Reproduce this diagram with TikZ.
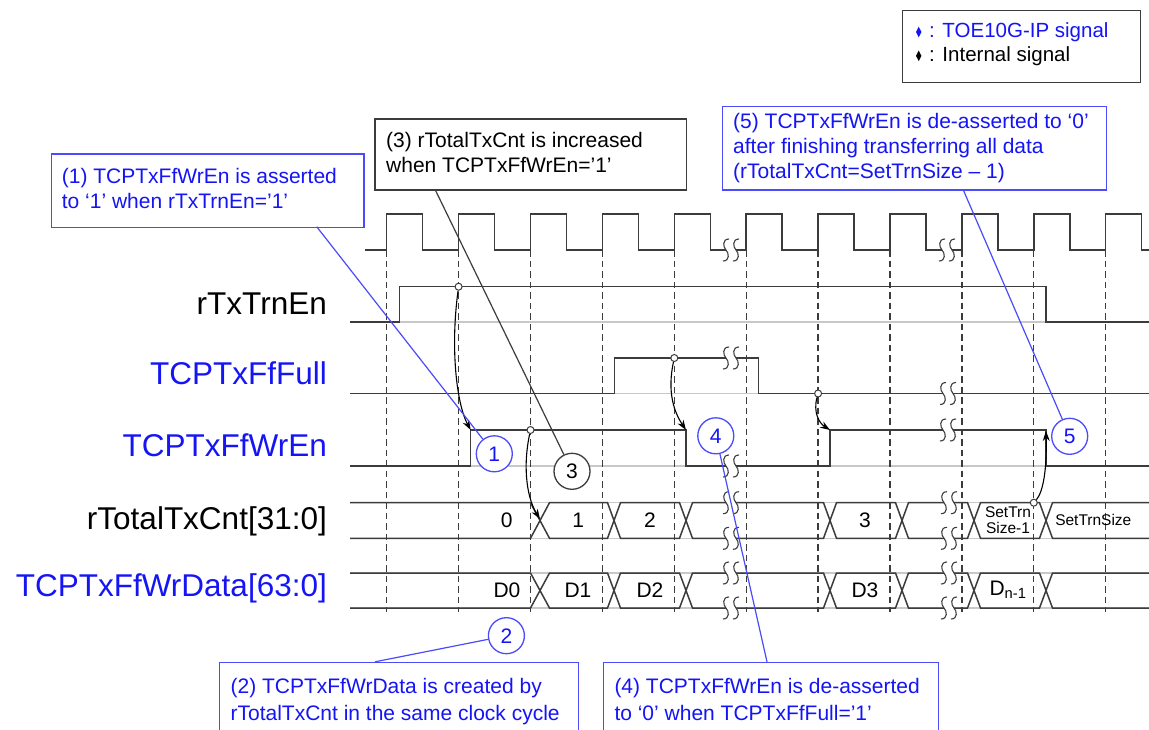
\documentclass[tikz,border=0pt]{standalone}
\usepackage{fontspec}
\setmainfont{Liberation Sans}
\usetikzlibrary{arrows.meta}
\definecolor{sig}{RGB}{60,60,60}
\definecolor{guide}{RGB}{200,200,200}
\definecolor{tblue}{RGB}{20,20,245}
\definecolor{bblue}{RGB}{75,75,250}
\newcommand{\sS}[2]{\draw[sig,line width=1.1pt] ({#1+3},{#2-11}) .. controls ({#1-4},{#2-11}) and ({#1-3},{#2-3}) .. ({#1},{#2}) .. controls ({#1+3},{#2+3}) and ({#1+4},{#2+11}) .. ({#1-3},{#2+11});}
\newcommand{\sigbreak}[2]{\fill[white] ({#1-5},{#2-2.6}) rectangle ({#1+5},{#2+2.6});\sS{#1-5}{#2}\sS{#1+5}{#2}}
\newcommand{\busdraw}[2]{\draw[sigl] (350,#1) -- (530.5,#1) -- (549.5,#2) -- (607.5,#2) -- (620.5,#1) -- (679.5,#1) -- (692.5,#2) -- (823.5,#2) -- (836.5,#1) -- (895.5,#1) -- (908.5,#2) -- (967.5,#2) -- (980.5,#1) -- (1039.5,#1) -- (1052.5,#2) -- (1149,#2);}
\begin{document}
\begin{tikzpicture}[x=1pt,y=-1pt,
  sigl/.style={draw=sig,line width=1.5pt,line join=miter},
  guideline/.style={draw=guide,line width=1.3pt},
  edgeline/.style={draw=sig,line width=1.3pt,dash pattern=on 6.5pt off 4pt},
  lab/.style={anchor=base east,font=\fontsize{31.5}{36}\selectfont,inner sep=0},
  val/.style={font=\fontsize{21}{25}\selectfont,inner sep=0},
  sval/.style={font=\fontsize{15.5}{18}\selectfont,inner sep=0},
  cbox/.style={draw=#1,line width=1.3pt,fill=white,anchor=north west,inner sep=0},
  ctext/.style={anchor=base west,inner sep=0,font=\fontsize{21}{25}\selectfont},
  numc/.style={circle,draw=#1,line width=1.3pt,fill=white,minimum size=36pt,inner sep=0,font=\fontsize{21}{25}\selectfont},
  dotc/.style={circle,draw=sig,line width=1pt,fill=white,minimum size=7pt,inner sep=0},
  causal/.style={draw=black,line width=1.1pt,-{Stealth[length=10pt,width=7pt]}},
  pointer/.style={draw=#1,line width=1.2pt}
]
\useasboundingbox (0,0) rectangle (1149,729);
\fill[white] (0,0) rectangle (1149,729);
\clip (0,0) rectangle (1149,729);

% guide lines
\foreach \yy in {322,393.5,466,502.7,538.3,573,608}{\draw[guideline] (350,\yy) -- (1149,\yy);}

% dashed clock edges
\foreach \xx in {386.7,458.6,530.5,602.4,674.3,746.2,818.1,890.0,961.9,1033.8,1105.7}{\draw[edgeline] (\xx,250) -- (\xx,612);}

% clock
\draw[sigl] (365,250) -- (386.7,250) -- (386.7,214) -- (422.7,214) -- (422.7,250)
 -- (458.6,250) -- (458.6,214) -- (494.6,214) -- (494.6,250)
 -- (530.5,250) -- (530.5,214) -- (566.5,214) -- (566.5,250)
 -- (602.4,250) -- (602.4,214) -- (638.4,214) -- (638.4,250)
 -- (674.3,250) -- (674.3,214) -- (710.3,214) -- (710.3,250)
 -- (746.2,250) -- (746.2,214) -- (782.2,214) -- (782.2,250)
 -- (818.1,250) -- (818.1,214) -- (854.1,214) -- (854.1,250)
 -- (890.0,250) -- (890.0,214) -- (926.0,214) -- (926.0,250)
 -- (961.9,250) -- (961.9,214) -- (997.9,214) -- (997.9,250)
 -- (1033.8,250) -- (1033.8,214) -- (1069.8,214) -- (1069.8,250)
 -- (1105.7,250) -- (1105.7,214) -- (1141.7,214) -- (1141.7,250) -- (1149,250);

% rTxTrnEn
\draw[sigl] (350,322) -- (399.3,322) -- (399.3,286.7) -- (1046,286.7) -- (1046,322) -- (1149,322);
% TCPTxFfFull
\draw[sigl] (350,393.5) -- (614.3,393.5) -- (614.3,358) -- (758.3,358) -- (758.3,393.5) -- (1149,393.5);
% TCPTxFfWrEn
\draw[sigl] (350,466) -- (470.7,466) -- (470.7,430) -- (686,430) -- (686,466) -- (830,466) -- (830,430) -- (1046,430) -- (1046,466) -- (1149,466);
% buses
\busdraw{502.7}{538.3}
\busdraw{538.3}{502.7}
\busdraw{573}{608}
\busdraw{608}{573}

% breaks
\sigbreak{731}{250}
\sigbreak{947}{250}
\sigbreak{731}{358}
\sigbreak{948}{393.5}
\sigbreak{731}{466}
\sigbreak{948}{430}
\foreach \yy in {502.7,538.3,573,608}{\sigbreak{731}{\yy}\sigbreak{949}{\yy}}

% signal names
\node[lab] (nTrn) at (327,314) {rTxTrnEn};
\node[lab,text=tblue] (nFull) at (327,384.3) {TCPTxFfFull};
\node[lab,text=tblue] (nWrEn) at (327,456.7) {TCPTxFfWrEn};
\node[lab] (nCnt) at (327,529.3) {rTotalTxCnt[31:0]};
\node[lab,text=tblue] (nData) at (327,596.7) {TCPTxFfWrData[63:0]};

% bus values
\node[val] (v0) at (506.7,520) {0};
\node[val] (v1) at (578.3,520) {1};
\node[val] (v2) at (650,520) {2};
\node[val] (v3) at (865,520) {3};
\node[sval] (v4a) at (1008,511.7) {SetTrn};
\node[sval] (v4b) at (1008,528.3) {Size-1};
\node[sval] (v5) at (1093.3,519.5) {SetTrnSize};
\node[val] (d0) at (507,590) {D0};
\node[val] (d1) at (578,590) {D1};
\node[val] (d2) at (650,590) {D2};
\node[val] (d3) at (865,590) {D3};
\node[val] (dn) at (1008,590) {D\textsubscript{n-1}};

% causal arrows
\node[dotc] (s1) at (458.6,286.7) {};
\coordinate (t1) at (470.7,430);
\draw[causal] (s1) .. controls (450,350) and (457,405) .. (t1);
\node[dotc] (s2) at (530.5,430) {};
\coordinate (t2) at (540,519);
\draw[causal] (s2) .. controls (522,470) and (528,500) .. (t2);
\node[dotc] (s3) at (674.3,358) {};
\coordinate (t3) at (686,430);
\draw[causal] (s3) .. controls (667,392) and (674,412) .. (t3);
\node[dotc] (s4) at (818.1,393.5) {};
\coordinate (t4) at (830,430);
\draw[causal] (s4) .. controls (813,412) and (819,423) .. (t4);
\node[dotc] (s5) at (1033.8,502.7) {};
\coordinate (t5) at (1046,431);
\draw[causal] (s5) .. controls (1043,492) and (1047,470) .. (t5);

% callout boxes
\node[cbox=bblue,minimum width=312.6pt,minimum height=73.4pt] (box1) at (50.7,153.3) {};
\node[ctext,text=tblue] (t1a) at (61.7,183.3) {(1) TCPTxFfWrEn is asserted};
\node[ctext,text=tblue] (t1b) at (61.7,208.3) {to ‘1’ when rTxTrnEn=’1’};

\node[cbox=sig,minimum width=311.7pt,minimum height=71pt] (box3) at (374.3,118.3) {};
\node[ctext] (t3a) at (386,147.7) {(3) rTotalTxCnt is increased};
\node[ctext] (t3b) at (386,172.7) {when TCPTxFfWrEn=’1’};

\node[cbox=bblue,minimum width=384pt,minimum height=83.6pt] (box5) at (722,105.7) {};
\node[ctext,text=tblue] (t5a) at (733,128.3) {(5) TCPTxFfWrEn is de-asserted to ‘0’};
\node[ctext,text=tblue] (t5b) at (733,153.3) {after finishing transferring all data};
\node[ctext,text=tblue] (t5c) at (733,178.3) {(rTotalTxCnt=SetTrnSize – 1)};

\node[cbox=bblue,minimum width=359.3pt,minimum height=90pt] (box2) at (218.6,661.8) {};
\node[ctext,text=tblue] (t2a) at (230.4,693.9) {(2) TCPTxFfWrData is created by};
\node[ctext,text=tblue] (t2b) at (230.4,720.7) {rTotalTxCnt in the same clock cycle};

\node[cbox=bblue,minimum width=335pt,minimum height=90pt] (box4) at (603,661.8) {};
\node[ctext,text=tblue] (t4a) at (614.3,693.9) {(4) TCPTxFfWrEn is de-asserted};
\node[ctext,text=tblue] (t4b) at (614.3,720.7) {to ‘0’ when TCPTxFfFull=’1’};

% numbered circles and pointers
\node[numc=bblue,text=tblue] (c1) at (494.3,453.8) {1};
\node[numc=bblue,text=tblue] (c2) at (506.4,635.7) {2};
\node[numc=sig] (c3) at (572,471.3) {3};
\node[numc=bblue,text=tblue] (c4) at (715.8,435.8) {4};
\node[numc=bblue,text=tblue] (c5) at (1069.7,436.3) {5};
\coordinate (p1) at (316.7,226.7);
\coordinate (p2) at (375,661.8);
\coordinate (p3) at (435,189.3);
\coordinate (p4) at (767,661.8);
\coordinate (p5) at (963,189.3);
\draw[pointer=bblue] (p1) -- (c1);
\draw[pointer=bblue] (c2) -- (p2);
\draw[pointer=sig] (p3) -- (c3);
\draw[pointer=bblue] (c4) -- (p4);
\draw[pointer=bblue] (p5) -- (c5);

% legend
\node[cbox=sig,line width=1.2pt,minimum width=238.3pt,minimum height=71.7pt] (legend) at (901.7,10) {};
\fill[tblue] (918.7,26.7) -- (921.4,32) -- (918.7,37.3) -- (916,32) -- cycle;
\fill[black] (918.7,50.5) -- (921.4,55.8) -- (918.7,61.1) -- (916,55.8) -- cycle;
\node[ctext,font=\fontsize{20.5}{24}\selectfont,text=tblue] (lg1) at (929,37.3) {: TOE10G-IP signal};
\node[ctext,font=\fontsize{20.5}{24}\selectfont] (lg2) at (929,61) {: Internal signal};
\end{tikzpicture}
\end{document}
